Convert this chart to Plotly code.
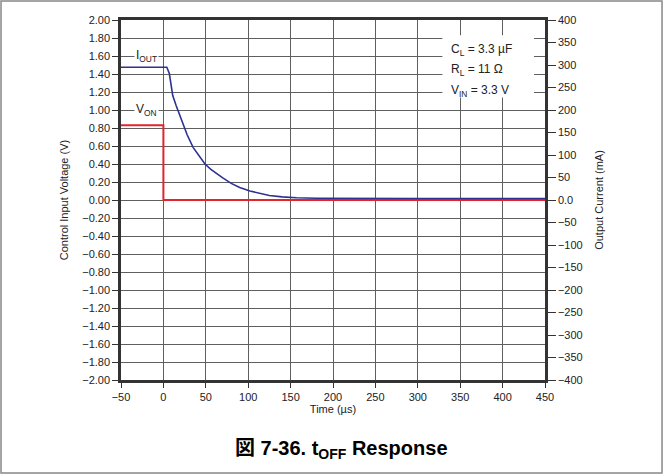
import plotly.graph_objects as go

# V_ON step (V) vs time (us)
t_von = [-50, 0, 0, 450]
v_on = [0.83, 0.83, 0, 0]

# I_OUT decay (mA) vs time (us)
t_iout = [-50, 4, 7, 11, 15, 21, 28, 35, 42, 49, 56, 63, 70, 80, 90, 102, 115,
          125, 140, 157, 180, 210, 250, 300, 350, 400, 450]
i_out = [295, 295, 281, 232, 210, 178, 145, 117, 97, 80, 68, 58, 49, 37, 28, 20,
         14, 10, 7, 5, 4, 3.5, 3.5, 3.5, 3.5, 3.5, 3.5]

x_ticks = [-50, 0, 50, 100, 150, 200, 250, 300, 350, 400, 450]
y_ticks = [round(-2 + 0.2 * k, 2) for k in range(21)]
y2_ticks = [-400, -350, -300, -250, -200, -150, -100, -50, 0, 50, 100, 150, 200, 250, 300, 350, 400]
y2_text = ["\u2212400", "\u2212350", "\u2212300", "\u2212250", "\u2212200", "\u2212150", "\u2212100", "\u221250",
           "0.0", "50", "100", "150", "200", "250", "300", "350", "400"]

conditions = ["C<sub>L</sub> = 3.3 \u00b5F", "R<sub>L</sub> = 11 \u03a9", "V<sub>IN</sub> = 3.3 V"]

font_family = "Liberation Sans, Arial, Noto Sans CJK JP"
axis_col = "#333333"

fig = go.Figure()
fig.add_trace(go.Scatter(x=t_von, y=v_on, mode="lines", line=dict(color="#e0252b", width=2),
                         yaxis="y", showlegend=False))
fig.add_trace(go.Scatter(x=t_iout, y=i_out, mode="lines", line=dict(color="#2e3192", width=1.6),
                         yaxis="y2", showlegend=False))

fig.update_layout(
    width=664, height=476,
    margin=dict(l=121, r=119, t=20, b=96),
    paper_bgcolor="white", plot_bgcolor="white",
    font=dict(family=font_family, size=11, color="#222222"),
    showlegend=False,
    xaxis=dict(range=[-50, 450], tickvals=x_ticks, ticks="outside", ticklen=5, tickcolor=axis_col,
               showgrid=True, gridcolor="#5f5f5f", gridwidth=1.3, zeroline=False,
               showline=True, linecolor=axis_col, linewidth=2.5, mirror=True,
               title=dict(text="Time (\u00b5s)", standoff=4, font=dict(size=11)),
               tickfont=dict(size=11), automargin=False),
    yaxis=dict(range=[-2, 2], tickvals=y_ticks, tickformat=".2f", ticks="outside", ticklen=6,
               tickcolor=axis_col, showgrid=True, gridcolor="#5f5f5f", gridwidth=1.3, zeroline=False,
               showline=True, linecolor=axis_col, linewidth=2.5,
               title=dict(text="Control Input Voltage (V)", standoff=12, font=dict(size=11)),
               tickfont=dict(size=11), automargin=False),
    yaxis2=dict(range=[-400, 400], tickvals=y2_ticks, ticktext=y2_text, overlaying="y", side="right",
                ticks="outside", ticklen=8, tickcolor=axis_col, showgrid=False, zeroline=False,
                showline=True, linecolor=axis_col, linewidth=2.5,
                title=dict(text="Output Current (mA)", standoff=14, font=dict(size=11)),
                tickfont=dict(size=11), automargin=False),
)

# series labels
fig.add_annotation(x=-20, y=1.6, xref="x", yref="y", text="I<sub>OUT</sub>", showarrow=False,
                   bgcolor="white", font=dict(size=12), borderpad=1)
fig.add_annotation(x=-20, y=1.0, xref="x", yref="y", text="V<sub>ON</sub>", showarrow=False,
                   bgcolor="white", font=dict(size=12), borderpad=1)

# conditions box
fig.add_shape(type="rect", xref="x", yref="y", x0=329, x1=437, y0=1.14, y1=1.83,
              fillcolor="white", line=dict(width=0), layer="above")
for k, txt in enumerate(conditions):
    fig.add_annotation(x=337, y=1.667 - 0.228 * k, xref="x", yref="y", xanchor="left", yanchor="middle",
                       text=txt, showarrow=False, font=dict(size=12))

# figure caption
fig.add_annotation(x=0.52, y=-0.194, xref="paper", yref="paper", yanchor="middle",
                   text="<b>\u56f3 7-36. t<sub>OFF</sub> Response</b>", showarrow=False,
                   font=dict(size=20, color="black"))

# outer frame
fig.add_shape(type="rect", xref="paper", yref="paper", x0=-0.283, x1=1.276, y0=-0.258, y1=1.053,
              line=dict(color="#888888", width=1.5), layer="below")

fig.write_html("out.html", config={"displayModeBar": False},
               post_script="document.body.style.margin='0';")
